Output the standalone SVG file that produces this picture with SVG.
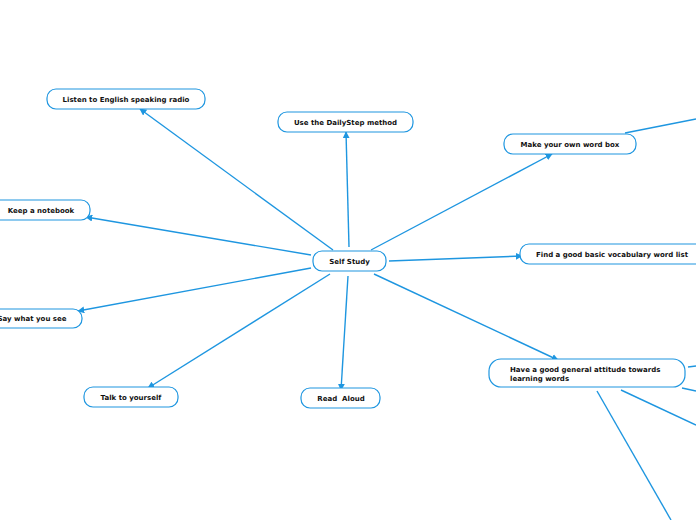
<svg xmlns="http://www.w3.org/2000/svg" width="696" height="520" viewBox="0 0 696 520">
<style>
.n rect{fill:#fff;stroke:#1e96e0;stroke-width:1.2}
.n text{font-family:"DejaVu Sans",Verdana,sans-serif;font-weight:bold;font-size:7px;fill:#111;white-space:pre}
.c line{stroke:#1e96e0;stroke-width:1.4}
</style>
<defs>
<marker id="a" viewBox="0 0 10 10" refX="9" refY="5" markerWidth="7" markerHeight="7" orient="auto" markerUnits="userSpaceOnUse">
<path d="M0,0 L10,5 L0,10 z" fill="#1e96e0"/>
</marker>
</defs>
<g class="c">
<line x1="333" y1="250" x2="140" y2="109" marker-end="url(#a)"/>
<line x1="349" y1="247" x2="346" y2="132" marker-end="url(#a)"/>
<line x1="371" y1="250" x2="552" y2="154" marker-end="url(#a)"/>
<line x1="311" y1="255" x2="86" y2="217" marker-end="url(#a)"/>
<line x1="389" y1="261" x2="522" y2="256" marker-end="url(#a)"/>
<line x1="311" y1="268" x2="78" y2="311" marker-end="url(#a)"/>
<line x1="330" y1="274" x2="148" y2="388" marker-end="url(#a)"/>
<line x1="348" y1="276" x2="341" y2="390" marker-end="url(#a)"/>
<line x1="374" y1="274" x2="558" y2="360" marker-end="url(#a)"/>
<line x1="625" y1="133" x2="696" y2="119"/>
<line x1="688" y1="367" x2="696" y2="366"/>
<line x1="682" y1="388" x2="696" y2="391"/>
<line x1="621" y1="390" x2="696" y2="425"/>
<line x1="597" y1="391" x2="671" y2="520"/>
</g>
<g id="self" class="n"><rect x="313" y="251" width="73" height="20" rx="9"/><text x="349.5" y="263.5" text-anchor="middle">Self Study</text></g>
<g id="listen" class="n"><rect x="47" y="89" width="158" height="20" rx="9"/><text x="126" y="101.5" text-anchor="middle">Listen to English speaking radio</text></g>
<g id="daily" class="n"><rect x="278" y="112" width="135" height="20" rx="9"/><text x="345.5" y="124.5" text-anchor="middle">Use the DailyStep method</text></g>
<g id="wordbox" class="n"><rect x="504" y="134" width="132" height="20" rx="9"/><text x="570" y="146.5" text-anchor="middle">Make your own word box</text></g>
<g id="notebook" class="n"><rect x="-10" y="200" width="100" height="20" rx="9"/><text x="41" y="212.5" text-anchor="middle">Keep a notebook</text></g>
<g id="vocab" class="n"><rect x="520" y="244" width="186" height="20" rx="9"/><text x="612" y="256.5" text-anchor="middle">Find a good basic vocabulary word list</text></g>
<g id="say" class="n"><rect x="-12" y="309" width="94" height="19" rx="9"/><text x="32" y="321" text-anchor="middle">Say what you see</text></g>
<g id="talk" class="n"><rect x="84" y="387" width="94" height="20" rx="9"/><text x="131" y="399.5" text-anchor="middle">Talk to yourself</text></g>
<g id="read" class="n"><rect x="301" y="388" width="79" height="20" rx="9"/><text x="341" y="400.5" text-anchor="middle" xml:space="preserve">Read  Aloud</text></g>
<g id="attitude" class="n"><rect x="489" y="359" width="196" height="28" rx="12"/><text x="510" y="371.5">Have a good general attitude towards</text><text x="510" y="380.5">learning words</text></g>
</svg>
